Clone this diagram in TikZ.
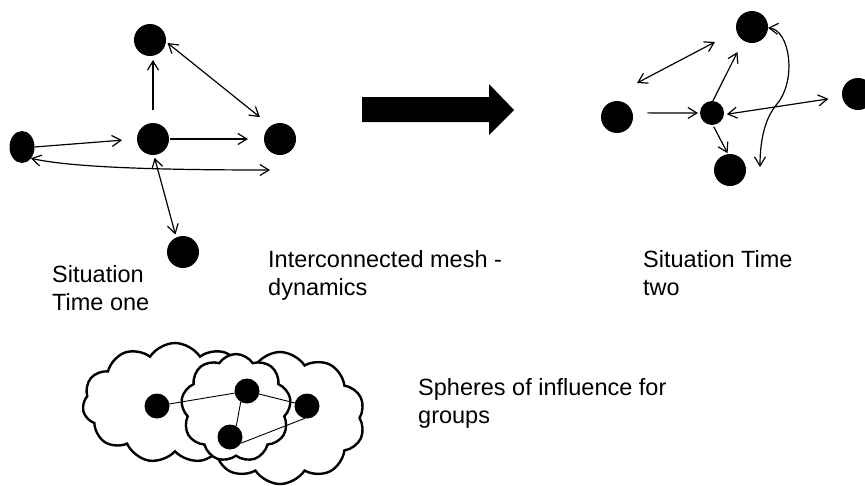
\documentclass[tikz,border=0pt]{standalone}
\usepackage{fontspec}
\setmainfont{Liberation Sans}
\usetikzlibrary{arrows.meta,shapes.geometric,shapes.symbols}
\begin{document}
\begin{tikzpicture}[x=1pt,y=-1pt,
  dot/.style={circle,fill=black,inner sep=0pt,outer sep=0pt,minimum size=32pt},
  hubdot/.style={dot,minimum size=24pt},
  grpdot/.style={dot,minimum size=25pt},
  tip/.tip={Straight Barb[length=9pt,width=11pt]},
  link/.style={line width=1.2pt,-tip},
  dlink/.style={line width=1.2pt,tip-tip},
  tie/.style={line width=0.9pt},
  lbl/.style={anchor=base west,align=left,inner sep=0pt,
    font=\fontsize{23.5}{28.5}\selectfont},
  puff/.style={cloud,draw,fill=white,line width=2.4pt,inner sep=0pt,
    outer sep=0pt,cloud puff arc=115}
]
\useasboundingbox (0,0) rectangle (865,485);

% ---------- first situation ----------
\node[dot] (t1top)   at (150,40)  {};
\node[dot] (t1mid)   at (153,139) {};
\node[dot] (t1right) at (280,139) {};
\node[ellipse,fill=black,inner sep=0pt,outer sep=0pt,
      minimum width=25pt,minimum height=32pt] (t1left) at (22,147) {};
\node[dot] (t1bot)   at (183,252) {};
\coordinate (t1tail) at (270,170);

\draw[link,shorten <=13pt,shorten >=4pt] (t1mid.north) -- (t1mid.north |- t1top.south);
\draw[dlink,shorten <=2pt,shorten >=14pt] (t1top.-6) -- (t1right.125);
\draw[link,shorten >=15pt] (t1left.east) -- (t1mid.west);
\draw[link,shorten <=1pt,shorten >=16pt] (t1mid.east) -- (t1right.west);
\draw[dlink] (t1left.-52) .. controls (70,167) and (150,170) .. (t1tail);
\draw[dlink,shorten <=3pt,shorten >=3pt] (t1mid.-87) -- (t1bot.115);

% ---------- transition arrow ----------
\fill (362,97) -- (489,97) -- (489,84) -- (514,110) -- (489,135)
      -- (489,122) -- (362,122) -- cycle;

% ---------- second situation ----------
\node[dot]    (t2top)   at (752,27)  {};
\node[dot]    (t2left)  at (617,117) {};
\node[hubdot] (t2hub)   at (712,113) {};
\node[dot]    (t2bot)   at (730,170) {};
\node[dot]    (t2right) at (858,94)  {};
\coordinate (t2a) at (637,83);
\coordinate (t2b) at (715,42);
\coordinate (t2tail) at (760,167);

\draw[dlink] (t2a) -- (t2b);
\draw[link,shorten <=15pt,shorten >=2pt] (t2left.15) -- (t2hub.west);
\draw[link,shorten >=13pt] (t2hub.86) -- (t2top.-123);
\draw[link,shorten <=2pt,shorten >=1pt] (t2hub.-86) -- (t2bot.97);
\draw[dlink,shorten <=3pt,shorten >=14pt] (t2hub.-8) -- (t2right.-170);
\draw[dlink] (t2top.-3) .. controls (790,30) and (797,80) .. (777,104)
      .. controls (765,118) and (760,140) .. (t2tail);

% ---------- labels (anchored at the baseline of the last line) ----------
\node[lbl] (lab1) at (52,310.5)  {Situation\\Time one};
\node[lbl] (lab2) at (268,295.5) {Interconnected mesh -\\dynamics};
\node[lbl] (lab3) at (643,295.5) {Situation Time\\two};
\node[lbl] (lab4) at (418,423.5) {Spheres of influence for\\groups};

% ---------- spheres of influence ----------
\node[puff,cloud puffs=11,aspect=1.6,minimum width=185pt,minimum height=120pt]
  (cl) at (175,403) {};
\node[puff,cloud puffs=10,aspect=1.3,minimum width=170pt,minimum height=132pt]
  (cr) at (280,418) {};
\node[puff,cloud puffs=9,aspect=1,minimum width=110pt,minimum height=108pt]
  (cm) at (236,408) {};

\node[grpdot] (gA) at (157,406) {};
\node[grpdot] (gB) at (247,391) {};
\node[grpdot] (gC) at (307,406) {};
\node[grpdot] (gD) at (230,437) {};

\draw[tie] (gA) -- (gB);
\draw[tie] (gB) -- (gC);
\draw[tie] (gB.240) -- (gD.60);
\draw[tie] (gD.-30) -- (gC.-100);
\end{tikzpicture}
\end{document}
